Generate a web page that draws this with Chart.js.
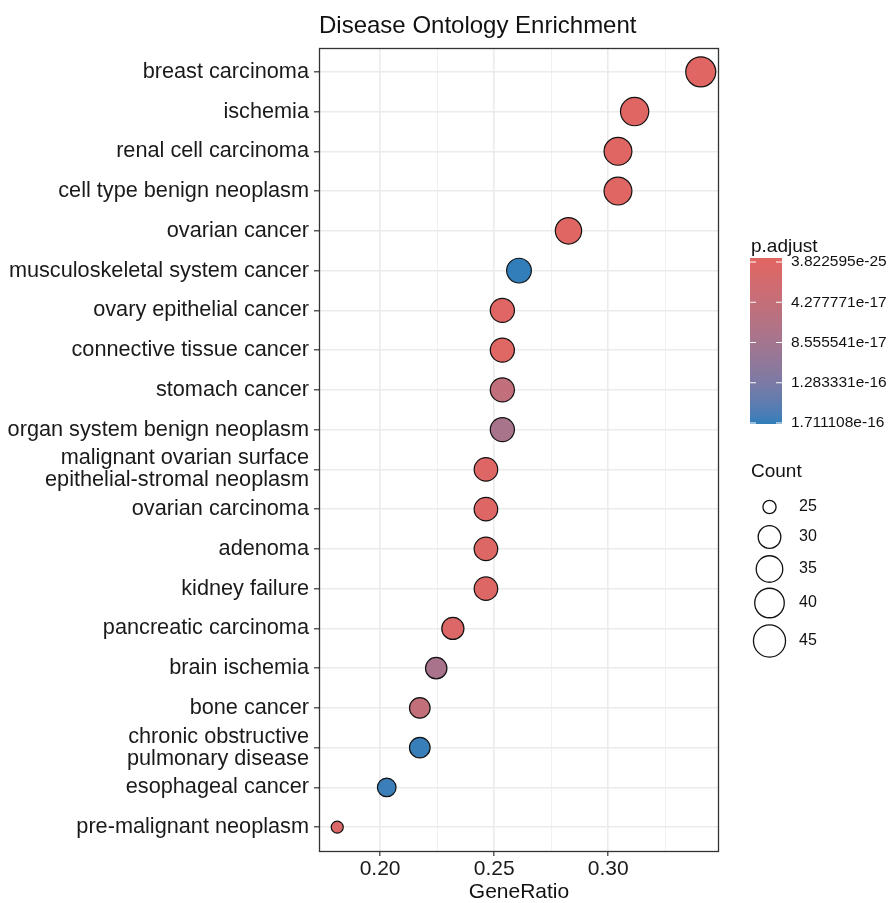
<!DOCTYPE html>
<html>
<head>
<meta charset="utf-8">
<title>Disease Ontology Enrichment</title>
<script src="https://cdn.jsdelivr.net/npm/chart.js@4.4.1/dist/chart.umd.min.js"></script>
<style>
  html, body { margin: 0; padding: 0; background: #fff; }
  #wrap { width: 889px; height: 903px; position: relative; }
</style>
</head>
<body>
<div id="wrap"><canvas id="doChart"></canvas></div>
<script>
/* Data, top row first */
const categories = [
  'breast carcinoma',
  'ischemia',
  'renal cell carcinoma',
  'cell type benign neoplasm',
  'ovarian cancer',
  'musculoskeletal system cancer',
  'ovary epithelial cancer',
  'connective tissue cancer',
  'stomach cancer',
  'organ system benign neoplasm',
  ['malignant ovarian surface', 'epithelial-stromal neoplasm'],
  'ovarian carcinoma',
  'adenoma',
  'kidney failure',
  'pancreatic carcinoma',
  'brain ischemia',
  'bone cancer',
  ['chronic obstructive', 'pulmonary disease'],
  'esophageal cancer',
  'pre-malignant neoplasm'
];
const geneRatio = [0.3406, 0.3116, 0.3043, 0.3043, 0.2826, 0.2609, 0.2536, 0.2536, 0.2536, 0.2536,
                   0.2464, 0.2464, 0.2464, 0.2464, 0.2319, 0.2246, 0.2174, 0.2174, 0.2029, 0.1812];
const counts = [47, 43, 42, 42, 39, 36, 35, 35, 35, 35, 34, 34, 34, 34, 32, 31, 30, 30, 28, 25];
const pAdjust = [3.822595e-25, 2.6e-22, 8.1e-22, 1.9e-21, 4.4e-20, 1.711108e-16, 1.3e-18, 2.2e-18, 4.6e-17, 8.1e-17,
                 3.1e-18, 3.1e-18, 4.6e-18, 4.6e-18, 7.5e-18, 7.9e-17, 4.5e-17, 1.69e-16, 1.68e-16, 8.9e-18];
const xTicks = [0.20, 0.225, 0.25, 0.275, 0.30, 0.325];
const colorBreaks = [3.822595e-25, 4.277771e-17, 8.555541e-17, 1.283331e-16, 1.711108e-16];
const colorBreakLabels = ['3.822595e-25', '4.277771e-17', '8.555541e-17', '1.283331e-16', '1.711108e-16'];
const sizeBreaks = [25, 30, 35, 40, 45];

const FONT = '"Liberation Sans", Arial, Helvetica, sans-serif';
const n = categories.length;
const pMin = Math.min(...pAdjust), pMax = Math.max(...pAdjust);
const cMin = Math.min(...counts), cMax = Math.max(...counts);

/* colour scale: ggplot style gradient (Lab interpolation) */
function toLin(c) { c /= 255; return c <= 0.04045 ? c / 12.92 : Math.pow((c + 0.055) / 1.055, 2.4); }
function fromLin(c) { c = c <= 0.0031308 ? 12.92 * c : 1.055 * Math.pow(c, 1 / 2.4) - 0.055; return Math.max(0, Math.min(255, Math.round(c * 255))); }
function hexToLab(hex) {
  const r = toLin(parseInt(hex.slice(1, 3), 16)), g = toLin(parseInt(hex.slice(3, 5), 16)), b = toLin(parseInt(hex.slice(5, 7), 16));
  const X = (0.4124 * r + 0.3576 * g + 0.1805 * b) / 0.95047;
  const Y = 0.2126 * r + 0.7152 * g + 0.0722 * b;
  const Z = (0.0193 * r + 0.1192 * g + 0.9505 * b) / 1.08883;
  const f = t => t > 0.008856 ? Math.cbrt(t) : 7.787 * t + 16 / 116;
  return [116 * f(Y) - 16, 500 * (f(X) - f(Y)), 200 * (f(Y) - f(Z))];
}
function labToRgb([L, a, b]) {
  const fy = (L + 16) / 116, fx = fy + a / 500, fz = fy - b / 200;
  const inv = t => t * t * t > 0.008856 ? t * t * t : (t - 16 / 116) / 7.787;
  const X = inv(fx) * 0.95047, Y = inv(fy), Z = inv(fz) * 1.08883;
  const r = 3.2406 * X - 1.5372 * Y - 0.4986 * Z;
  const g = -0.9689 * X + 1.8758 * Y + 0.0415 * Z;
  const bb = 0.0557 * X - 0.2040 * Y + 1.0570 * Z;
  return `rgb(${fromLin(r)},${fromLin(g)},${fromLin(bb)})`;
}
const lowLab = hexToLab('#e06663'), highLab = hexToLab('#327eba');
function fillFor(p) {
  const t = Math.max(0, Math.min(1, (p - pMin) / (pMax - pMin)));
  return labToRgb(lowLab.map((v, i) => v + (highLab[i] - v) * t));
}

/* size scale: area proportional, radius 6..15 px */
function sizeFor(c) {
  return 6 + Math.sqrt(Math.max(0, (c - cMin) / (cMax - cMin))) * 9;
}

const isMajor = v => Math.abs(v * 20 - Math.round(v * 20)) < 1e-6;

const points = categories.map((c, i) => ({ x: geneRatio[i], y: n - i, count: counts[i], p: pAdjust[i] }));

/* title, panel border and the two legends */
const countKeyY = [507, 537, 569, 603, 641];
const decorations = {
  id: 'decorations',
  afterDraw(chart) {
    const { ctx, chartArea: a } = chart;
    ctx.save();
    ctx.strokeStyle = '#333';
    ctx.lineWidth = 1.3;
    ctx.strokeRect(a.left + 0.5, a.top + 0.5, a.right - a.left - 1, a.bottom - a.top);

    ctx.fillStyle = '#111';
    ctx.font = '24px ' + FONT;
    ctx.textAlign = 'left';
    ctx.textBaseline = 'alphabetic';
    ctx.fillText('Disease Ontology Enrichment', a.left, 33);

    // p.adjust colour bar
    const bx = 750, bw = 32, top = 258, bottom = 424, v0 = 262, v1 = 423;
    ctx.font = '19px ' + FONT;
    ctx.textBaseline = 'middle';
    ctx.fillText('p.adjust', 751, 247);
    const grad = ctx.createLinearGradient(0, v0, 0, v1);
    for (let i = 0; i <= 30; i++) grad.addColorStop(i / 30, fillFor(pMin + (pMax - pMin) * i / 30));
    ctx.fillStyle = grad;
    ctx.fillRect(bx, top, bw, bottom - top);
    ctx.strokeStyle = '#fff';
    ctx.lineWidth = 1;
    ctx.font = '15.5px ' + FONT;
    colorBreaks.forEach((v, i) => {
      const y = v0 + (v - pMin) / (pMax - pMin) * (v1 - v0);
      ctx.beginPath();
      ctx.moveTo(bx, y); ctx.lineTo(bx + 6, y);
      ctx.moveTo(bx + bw - 6, y); ctx.lineTo(bx + bw, y);
      ctx.stroke();
      ctx.fillStyle = '#111';
      ctx.fillText(colorBreakLabels[i], 791, y);
    });

    // Count size legend
    ctx.font = '19px ' + FONT;
    ctx.fillText('Count', 751, 472);
    ctx.strokeStyle = '#111';
    ctx.lineWidth = 1.3;
    ctx.font = '16px ' + FONT;
    sizeBreaks.forEach((c, i) => {
      const r = sizeFor(c) * 1.1;
      const y = countKeyY[i];
      ctx.beginPath();
      ctx.arc(769.5, y, r, 0, Math.PI * 2);
      ctx.fillStyle = '#fff';
      ctx.fill();
      ctx.stroke();
      ctx.fillStyle = '#111';
      ctx.fillText(String(c), 799, y);
    });
    ctx.restore();
  }
};

new Chart(document.getElementById('doChart'), {
  type: 'bubble',
  data: {
    datasets: [{
      data: points,
      backgroundColor: ctx => fillFor(ctx.raw.p),
      borderColor: '#111',
      borderWidth: 1.2,
      radius: ctx => sizeFor(ctx.raw.count)
    }]
  },
  options: {
    responsive: true,
    maintainAspectRatio: false,
    animation: false,
    events: [],
    layout: { padding: { top: 48, right: 170, bottom: 0, left: 0 } },
    plugins: { legend: { display: false }, tooltip: { enabled: false } },
    scales: {
      x: {
        type: 'linear',
        min: 0.1732,
        max: 0.3486,
        afterBuildTicks: s => { s.ticks = xTicks.map(v => ({ value: v })); },
        afterFit: s => { s.height = 52; },
        border: { display: false },
        grid: {
          color: ctx => isMajor(ctx.tick.value) ? '#ebebeb' : '#f0f0f0',
          lineWidth: ctx => isMajor(ctx.tick.value) ? 1.6 : 1,
          tickLength: 5,
          tickWidth: 1.2,
          tickColor: ctx => isMajor(ctx.tick.value) ? '#333' : 'rgba(0,0,0,0)'
        },
        ticks: {
          autoSkip: false,
          maxRotation: 0,
          padding: 1,
          color: '#1a1a1a',
          font: { family: FONT, size: 21 },
          callback: v => isMajor(v) ? v.toFixed(2) : ''
        },
        title: { display: true, text: 'GeneRatio', color: '#111', font: { family: FONT, size: 21, lineHeight: 1 }, padding: 0 }
      },
      y: {
        type: 'linear',
        min: 0.4,
        max: n + 0.6,
        afterBuildTicks: s => { s.ticks = categories.map((c, i) => ({ value: n - i })); },
        afterFit: s => { s.width = 319; },
        border: { display: false },
        grid: { color: '#ebebeb', lineWidth: 1.6, tickLength: 5, tickWidth: 1.2, tickColor: '#333' },
        ticks: {
          autoSkip: false,
          padding: 5,
          color: '#1a1a1a',
          font: { family: FONT, size: 21.7, lineHeight: 1.02 },
          callback: v => categories[n - v]
        }
      }
    }
  },
  plugins: [decorations]
});
</script>
</body>
</html>
